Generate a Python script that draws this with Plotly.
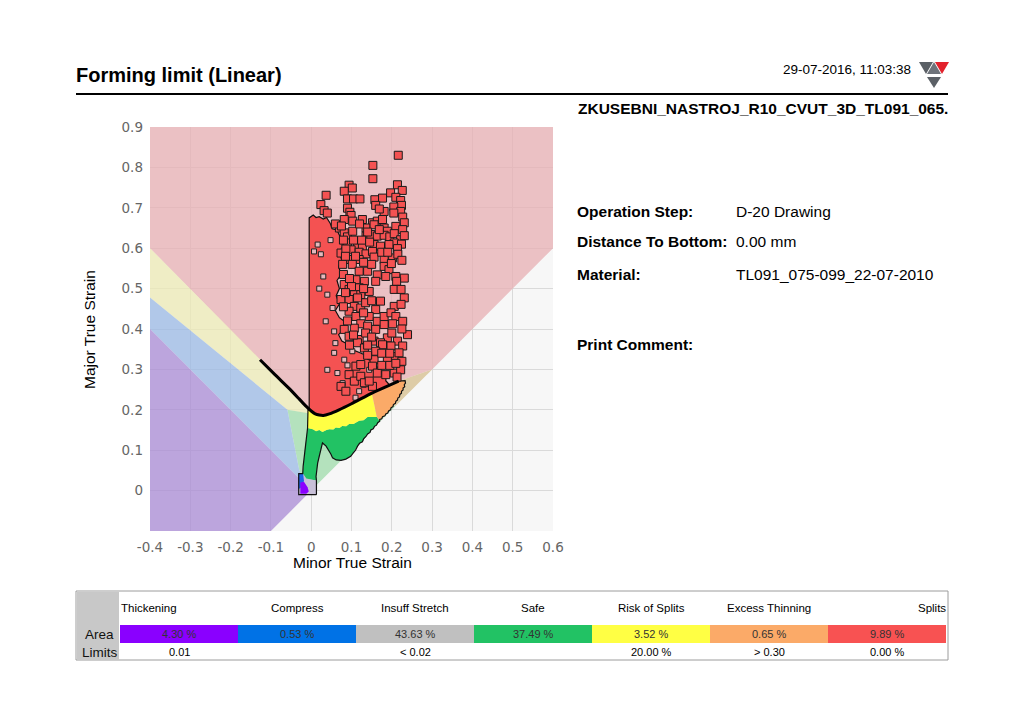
import plotly.graph_objects as go

W, H = 1024, 723

# ---------------- data ----------------
X_TICKS = [-0.4, -0.3, -0.2, -0.1, 0.0, 0.1, 0.2, 0.3, 0.4, 0.5, 0.6]
X_TICK_TEXT = ["-0.4", "-0.3", "-0.2", "-0.1", "0", "0.1", "0.2", "0.3", "0.4", "0.5", "0.6"]
Y_TICKS = [0.0, 0.1, 0.2, 0.3, 0.4, 0.5, 0.6, 0.7, 0.8, 0.9]
Y_TICK_TEXT = ["0", "0.1", "0.2", "0.3", "0.4", "0.5", "0.6", "0.7", "0.8", "0.9"]
X_RANGE = [-0.4, 0.6]
Y_RANGE = [-0.1, 0.9]

# forming limit curve
FLC_X = [-0.127, -0.09, -0.055, -0.03, -0.013, 0.0, 0.01, 0.02, 0.03, 0.045, 0.069, 0.1, 0.152, 0.185, 0.217]
FLC_Y = [0.324, 0.287, 0.253, 0.227, 0.209, 0.197, 0.19, 0.187, 0.186, 0.19, 0.2, 0.215, 0.242, 0.257, 0.271]

# background zones (minor, major)
ZONE_PINK = [(-0.4, 0.9), (0.6, 0.9), (0.6, 0.6), (0.3, 0.3), (0.217, 0.271), (0.185, 0.257), (0.152, 0.242),
             (0.1, 0.215), (0.069, 0.2), (0.045, 0.19), (0.03, 0.186), (0.02, 0.187), (0.01, 0.19), (0.0, 0.197),
             (-0.013, 0.209), (-0.03, 0.227), (-0.055, 0.253), (-0.09, 0.287), (-0.127, 0.324), (-0.4, 0.6)]
ZONE_CREAM = [(-0.4, 0.6), (-0.127, 0.324), (-0.09, 0.287), (-0.055, 0.253), (-0.03, 0.227), (-0.013, 0.209),
              (0.0, 0.197), (0.01, 0.19), (0.02, 0.187), (0.03, 0.186), (0.045, 0.19), (0.069, 0.2), (0.1, 0.215),
              (0.152, 0.242), (0.185, 0.257), (0.217, 0.271), (0.19, 0.215), (0.1, 0.17), (0.0, 0.19),
              (-0.059, 0.2), (-0.4, 0.478)]
ZONE_TAN = [(0.217, 0.271), (0.3, 0.3), (0.21, 0.21), (0.19, 0.215)]
ZONE_LGREEN = [(-0.059, 0.2), (0.0, 0.19), (0.1, 0.17), (0.19, 0.215), (0.21, 0.21), (0.0, 0.0),
               (-0.022, 0.035), (-0.03, 0.052), (-0.046, 0.134)]
ZONE_BLUE = [(-0.4, 0.478), (-0.059, 0.2), (-0.046, 0.134), (-0.03, 0.052), (-0.022, 0.035), (0.0, 0.0), (-0.4, 0.4)]
ZONE_PURPLE = [(-0.4, 0.4), (0.0, 0.0), (-0.1, -0.1), (-0.4, -0.1)]

# dense measured point clouds (outlines of the solid areas)
SEG_BLOB = [(0.013, -0.01), (-0.031, -0.01), (-0.031, 0.042), (-0.021, 0.042)]
SEG_LEFT = [(-0.02, 0.06), (-0.018, 0.08), (-0.015, 0.11), (-0.012, 0.13), (-0.009, 0.155), (-0.008, 0.2), (-0.005, 0.2)]
SEG_RED = [(-0.005, 0.675), (0.005, 0.682), (0.012, 0.676), (0.02, 0.678), (0.03, 0.672), (0.038, 0.676),
           (0.047, 0.662), (0.052, 0.648), (0.064, 0.645), (0.072, 0.628), (0.078, 0.605), (0.07, 0.59),
           (0.076, 0.57), (0.068, 0.555), (0.074, 0.535), (0.064, 0.52), (0.07, 0.5), (0.062, 0.482), (0.07, 0.462),
           (0.06, 0.446), (0.07, 0.428), (0.084, 0.418), (0.08, 0.398), (0.068, 0.386), (0.076, 0.37), (0.092, 0.362),
           (0.1, 0.35), (0.112, 0.345), (0.12, 0.34), (0.134, 0.336), (0.14, 0.325), (0.155, 0.32), (0.16, 0.308),
           (0.172, 0.302), (0.175, 0.29), (0.186, 0.284), (0.185, 0.272), (0.195, 0.261)]
SEG_ORANGE_TOP = [(0.217, 0.271), (0.233, 0.272)]
SEG_ORANGE_RIGHT = [(0.234, 0.266), (0.231, 0.262), (0.232, 0.257), (0.228, 0.254), (0.228, 0.249), (0.224, 0.246),
                    (0.224, 0.241), (0.22, 0.238), (0.219, 0.232), (0.215, 0.229), (0.214, 0.224), (0.21, 0.221),
                    (0.209, 0.216), (0.204, 0.213), (0.203, 0.208), (0.198, 0.205), (0.197, 0.2), (0.192, 0.197),
                    (0.19, 0.192), (0.185, 0.19), (0.183, 0.185), (0.177, 0.183), (0.175, 0.178), (0.17, 0.176),
                    (0.17, 0.172)]
SEG_GREEN_RIGHT = [(0.165, 0.168), (0.162, 0.162), (0.157, 0.159), (0.154, 0.153), (0.148, 0.15), (0.146, 0.144),
                   (0.14, 0.14), (0.136, 0.134), (0.13, 0.128), (0.127, 0.121), (0.12, 0.117), (0.115, 0.11),
                   (0.11, 0.1), (0.104, 0.093), (0.098, 0.085), (0.086, 0.078), (0.074, 0.075), (0.062, 0.076),
                   (0.053, 0.081), (0.049, 0.09), (0.045, 0.097), (0.037, 0.11), (0.028, 0.118), (0.024, 0.097),
                   (0.02, 0.085), (0.016, 0.068), (0.014, 0.05), (0.012, 0.035), (0.013, 0.025)]
SEG_GREEN_YELLOW = [(-0.009, 0.155), (0.004, 0.152), (0.012, 0.147), (0.02, 0.15), (0.028, 0.145), (0.038, 0.15),
                    (0.045, 0.152), (0.055, 0.151), (0.061, 0.156), (0.07, 0.155), (0.077, 0.16), (0.087, 0.159),
                    (0.094, 0.165), (0.105, 0.165), (0.119, 0.173), (0.13, 0.174), (0.14, 0.182), (0.163, 0.182)]
SEG_YELLOW_TOP = [(-0.008, 0.2), (0.0, 0.197), (0.01, 0.19), (0.02, 0.187), (0.03, 0.186), (0.045, 0.19),
                  (0.069, 0.2), (0.1, 0.215), (0.15, 0.243)]
SEG_YELLOW_ORANGE = [(0.15, 0.243), (0.156, 0.215), (0.163, 0.182)]
SEG_RED_BOTTOM = [(0.185, 0.257), (0.152, 0.242), (0.1, 0.215), (0.069, 0.2), (0.045, 0.19), (0.03, 0.186),
                  (0.02, 0.187), (0.01, 0.19), (0.0, 0.197)]
BLOB_GRAY = [(-0.031, 0.042), (-0.02, 0.042), (-0.012, 0.03), (0.013, 0.025), (0.013, -0.01), (-0.031, -0.01)]
BLOB_BLUE = [(-0.031, 0.042), (-0.02, 0.042), (-0.018, 0.025), (-0.021, 0.01), (-0.031, 0.004)]
BLOB_PURPLE = [(-0.027, 0.02), (-0.018, 0.022), (-0.009, 0.008), (-0.006, -0.002), (-0.012, -0.008), (-0.027, -0.008)]

# gaps inside the dense split cloud
HOLE_X = [0.040, 0.053, 0.036, 0.057, 0.057, 0.082, 0.040, 0.065, 0.078, 0.102, 0.144, 0.119, 0.016, 0.007,
          0.024, 0.03, 0.11, 0.13, 0.048, 0.02, 0.06, 0.09]
HOLE_Y = [0.485, 0.452, 0.419, 0.394, 0.341, 0.324, 0.299, 0.291, 0.266, 0.345, 0.299, 0.246, 0.609, 0.592,
          0.585, 0.53, 0.23, 0.262, 0.62, 0.5, 0.365, 0.31]

# individual split points
SPLIT_PTS = [
    (0.216, 0.830), (0.153, 0.805), (0.153, 0.772), (0.037, 0.731), (0.094, 0.756), (0.102, 0.749), (0.082, 0.741),
    (0.090, 0.722), (0.105, 0.722), (0.121, 0.722), (0.214, 0.757), (0.197, 0.737), (0.226, 0.743), (0.210, 0.726),
    (0.222, 0.718), (0.158, 0.720), (0.177, 0.724), (0.160, 0.706), (0.224, 0.706), (0.205, 0.702), (0.024, 0.708),
    (0.032, 0.693), (0.090, 0.699), (0.096, 0.689), (0.181, 0.691), (0.169, 0.697), (0.222, 0.691), (0.205, 0.687),
    (0.040, 0.687), (0.099, 0.681), (0.227, 0.677),
    (0.082, 0.671), (0.103, 0.667), (0.127, 0.671), (0.152, 0.663), (0.164, 0.667), (0.177, 0.671), (0.231, 0.663),
    (0.136, 0.650), (0.156, 0.658), (0.181, 0.650), (0.189, 0.642), (0.210, 0.654), (0.227, 0.646), (0.070, 0.650),
    (0.082, 0.638), (0.090, 0.628), (0.103, 0.642), (0.136, 0.630), (0.148, 0.634), (0.164, 0.630), (0.181, 0.632),
    (0.169, 0.646), (0.195, 0.628), (0.206, 0.636), (0.222, 0.621), (0.231, 0.631), (0.206, 0.613), (0.115, 0.609),
    (0.127, 0.603), (0.156, 0.609), (0.172, 0.605), (0.193, 0.609), (0.224, 0.610), (0.214, 0.599), (0.090, 0.613),
    (0.099, 0.596), (0.119, 0.590), (0.136, 0.586), (0.152, 0.592), (0.074, 0.588), (0.086, 0.598), (0.156, 0.578),
    (0.202, 0.576), (0.181, 0.572), (0.094, 0.572), (0.119, 0.572), (0.078, 0.560), (0.102, 0.560), (0.181, 0.555),
    (0.193, 0.547), (0.199, 0.562), (0.119, 0.543), (0.140, 0.543), (0.164, 0.534), (0.210, 0.530), (0.231, 0.526),
    (0.111, 0.522), (0.132, 0.518), (0.160, 0.518), (0.185, 0.530), (0.212, 0.518),
    (0.082, 0.510), (0.094, 0.498), (0.119, 0.502), (0.144, 0.493), (0.206, 0.498), (0.223, 0.498), (0.231, 0.477),
    (0.107, 0.485), (0.123, 0.485), (0.074, 0.473), (0.094, 0.473), (0.115, 0.477),
    (0.160, 0.448), (0.172, 0.469), (0.206, 0.456), (0.223, 0.461), (0.107, 0.456), (0.123, 0.452), (0.094, 0.444),
    (0.111, 0.431), (0.144, 0.431), (0.164, 0.419), (0.181, 0.431), (0.198, 0.440), (0.210, 0.431), (0.227, 0.419),
    (0.181, 0.411), (0.202, 0.413), (0.123, 0.413), (0.140, 0.407), (0.160, 0.399), (0.107, 0.402),
    (0.082, 0.399), (0.094, 0.382), (0.119, 0.374), (0.189, 0.378), (0.239, 0.386),
    (0.156, 0.370), (0.172, 0.366), (0.214, 0.370),
    (0.115, 0.366), (0.132, 0.353), (0.177, 0.361), (0.198, 0.358), (0.227, 0.358), (0.206, 0.332), (0.218, 0.341),
    (0.189, 0.328), (0.156, 0.324), (0.152, 0.308), (0.164, 0.291), (0.111, 0.308), (0.123, 0.312),
    (0.094, 0.287), (0.107, 0.271), (0.123, 0.283), (0.132, 0.267),
    (0.185, 0.287), (0.206, 0.291), (0.222, 0.299), (0.213, 0.281),
    (0.074, 0.258), (0.086, 0.246), (0.152, 0.258), (0.144, 0.271),
    (0.060, 0.660), (0.075, 0.655), (0.120, 0.660), (0.140, 0.640), (0.125, 0.620), (0.145, 0.615), (0.105, 0.620),
    (0.080, 0.620), (0.085, 0.580), (0.110, 0.580), (0.130, 0.565), (0.150, 0.560), (0.175, 0.590),
    (0.190, 0.590), (0.215, 0.585), (0.225, 0.570), (0.080, 0.535), (0.095, 0.525), (0.100, 0.505), (0.130, 0.500),
    (0.085, 0.490), (0.135, 0.465), (0.150, 0.470),
    (0.080, 0.455), (0.090, 0.420), (0.130, 0.440), (0.200, 0.390), (0.225, 0.400), (0.105, 0.385), (0.135, 0.390),
    (0.150, 0.380), (0.095, 0.360), (0.140, 0.360), (0.160, 0.345), (0.175, 0.340), (0.195, 0.340), (0.225, 0.320),
    (0.175, 0.310), (0.195, 0.310), (0.210, 0.315), (0.140, 0.335),
]

# summary table
CATEGORIES = ["Thickening", "Compress", "Insuff Stretch", "Safe", "Risk of Splits", "Excess Thinning", "Splits"]
AREA_PCT = [4.30, 0.53, 43.63, 37.49, 3.52, 0.65, 9.89]
LIMITS = ["0.01", "", "< 0.02", "", "20.00 %", "> 0.30", "0.00 %"]
CAT_COLORS = ["#8A00FF", "#0072E6", "#C0C0C0", "#22C264", "#FFFF44", "#FBAA68", "#F85252"]

INFO_LABELS = ["Operation Step:", "Distance To Bottom:", "Material:", "Print Comment:"]
INFO_VALUES = ["D-20 Drawing", "0.00 mm", "TL091_075-099_22-07-2010", ""]

# ---------------- styles ----------------
ARIAL = "Liberation Sans, Arial, sans-serif"
RED = "#F45252"
PAD = 2  # annotation inner padding compensation (px)


def closed(pts):
    xs = [p[0] for p in pts] + [pts[0][0]]
    ys = [p[1] for p in pts] + [pts[0][1]]
    return xs, ys


def px_x(px):
    return px / W


def px_y(py):
    return 1 - py / H


fig = go.Figure()


def add_fill(pts, color, line_w=0, line_c="black"):
    xs, ys = closed(pts)
    fig.add_trace(go.Scatter(x=xs, y=ys, mode="lines", fill="toself", fillcolor=color,
                             line=dict(width=line_w, color=line_c), hoverinfo="skip", showlegend=False))


# zones (semi-transparent so the grid shows through)
add_fill(ZONE_PINK, "rgba(231,175,179,0.75)")
add_fill(ZONE_CREAM, "rgba(236,233,180,0.75)")
add_fill(ZONE_TAN, "rgba(214,190,140,0.75)")
add_fill(ZONE_LGREEN, "rgba(158,219,170,0.75)")
add_fill(ZONE_BLUE, "rgba(154,184,228,0.75)")
add_fill(ZONE_PURPLE, "rgba(168,138,212,0.75)")

# dense clouds
green_poly = [(-0.022, 0.03), (-0.021, 0.042)] + SEG_LEFT[:5] + SEG_GREEN_YELLOW[1:] + [(0.17, 0.172)] + SEG_GREEN_RIGHT
yellow_poly = [(-0.009, 0.155)] + SEG_YELLOW_TOP + SEG_YELLOW_ORANGE[1:] + SEG_GREEN_YELLOW[::-1][1:]
orange_poly = [(0.15, 0.243), (0.185, 0.257)] + SEG_ORANGE_TOP + SEG_ORANGE_RIGHT + [(0.163, 0.182), (0.156, 0.215)]
red_poly = [(-0.005, 0.2)] + SEG_RED + SEG_RED_BOTTOM
add_fill(green_poly, "#22C264")
add_fill(yellow_poly, "#FFFF44")
add_fill(orange_poly, "#FBAA68")
add_fill(red_poly, RED)
add_fill(BLOB_GRAY, "#C8C0D8")
add_fill(BLOB_BLUE, "#1E64E6")
add_fill(BLOB_PURPLE, "#8A00FF")

# outer outline of the dense clouds
outline = SEG_BLOB + SEG_LEFT + SEG_RED + SEG_ORANGE_TOP + SEG_ORANGE_RIGHT + SEG_GREEN_RIGHT
ox, oy = closed(outline)
fig.add_trace(go.Scatter(x=ox, y=oy, mode="lines", line=dict(color="#111111", width=1.2),
                         hoverinfo="skip", showlegend=False))

# holes
fig.add_trace(go.Scatter(x=HOLE_X, y=HOLE_Y, mode="markers",
                         marker=dict(symbol="square", size=5, color="#E6B9BD", line=dict(color="#222", width=1)),
                         hoverinfo="skip", showlegend=False))

# individual split points
fig.add_trace(go.Scatter(x=[p[0] for p in SPLIT_PTS], y=[p[1] for p in SPLIT_PTS], mode="markers",
                         marker=dict(symbol="square", size=8, color=RED, line=dict(color="#1a1a1a", width=1)),
                         hoverinfo="skip", showlegend=False))

# FLC
fig.add_trace(go.Scatter(x=FLC_X, y=FLC_Y, mode="lines", line=dict(color="black", width=3, shape="spline", smoothing=0.6),
                         hoverinfo="skip", showlegend=False))

# ---------------- layout ----------------
fig.update_layout(
    width=W, height=H, margin=dict(l=0, r=0, t=0, b=0, autoexpand=False),
    paper_bgcolor="white", plot_bgcolor="#F7F7F7", showlegend=False,
    xaxis=dict(domain=[px_x(150), px_x(553)], range=X_RANGE, tickvals=X_TICKS, ticktext=X_TICK_TEXT,
               showgrid=True, gridcolor="#DADADA", gridwidth=1, zeroline=False, showline=False, automargin=False,
               tickfont=dict(family="DejaVu Sans", size=13.5, color="#666666"), ticks="", ticklabelstandoff=6,
               fixedrange=True),
    yaxis=dict(domain=[px_y(531), px_y(127)], range=Y_RANGE, tickvals=Y_TICKS, ticktext=Y_TICK_TEXT,
               showgrid=True, gridcolor="#DADADA", gridwidth=1, zeroline=False, showline=False, automargin=False,
               tickfont=dict(family="DejaVu Sans", size=13.5, color="#666666"), ticks="", ticklabelstandoff=6,
               fixedrange=True),
)


def ann(text, x, y, size, anchor="left", color="black", family=ARIAL, angle=0):
    if anchor == "left":
        x -= PAD
    elif anchor == "right":
        x += PAD
    fig.add_annotation(x=px_x(x), y=px_y(y), xref="paper", yref="paper", text=text, showarrow=False,
                       xanchor=anchor, yanchor="middle", textangle=angle,
                       font=dict(family=family, size=size, color=color))


def rect(x0, y0, x1, y1, fill, line_c=None, line_w=0):
    fig.add_shape(type="rect", xref="paper", yref="paper", x0=px_x(x0), x1=px_x(x1), y0=px_y(y1), y1=px_y(y0),
                  fillcolor=fill, line=dict(color=line_c or fill, width=line_w), layer="above")


# header
ann("<b>Forming limit (Linear)</b>", 76, 75, 20)
ann("29-07-2016, 11:03:38", 911, 70, 13.5, anchor="right")
fig.add_shape(type="line", xref="paper", yref="paper", x0=px_x(76), x1=px_x(948), y0=px_y(94), y1=px_y(94),
              line=dict(color="black", width=2))
ann("<b>ZKUSEBNI_NASTROJ_R10_CVUT_3D_TL091_065.</b>", 948, 108, 15.5, anchor="right")

# logo
LOGO = [((919, 62), (933, 62), (926, 74), "#5B6066"),
        ((927, 74), (941, 74), (934, 62), "#6E737A"),
        ((935, 62), (949, 62), (942, 74), "#E2222C"),
        ((927, 77), (941, 77), (934, 88), "#5B6066")]
for a, b, c, col in LOGO:
    path = "M {} {} L {} {} L {} {} Z".format(px_x(a[0]), px_y(a[1]), px_x(b[0]), px_y(b[1]), px_x(c[0]), px_y(c[1]))
    fig.add_shape(type="path", xref="paper", yref="paper", path=path, fillcolor=col, line=dict(width=0))

# axis titles
ann("Minor True Strain", 352, 562, 15.5, anchor="center")
ann("Major True Strain", 90, 330, 15.5, anchor="center", angle=-90)

# info block
INFO_Y = [211, 242, 274, 344]
for lab, val, yy in zip(INFO_LABELS, INFO_VALUES, INFO_Y):
    ann("<b>" + lab + "</b>", 577, yy, 15.5)
    if val:
        ann(val, 736, yy, 15.5)

# table
rect(76, 591, 948, 660, "white", "#9C9C9C", 1)
rect(77, 592, 119, 660, "#C8C8C8")
ann("Area", 114, 634, 13.5, anchor="right", color="#111111")
ann("Limits", 118, 652, 13.5, anchor="right", color="#111111")
cell_w = 118
for i, (cat, pct, lim, col) in enumerate(zip(CATEGORIES, AREA_PCT, LIMITS, CAT_COLORS)):
    x0 = 120 + cell_w * i
    rect(x0, 625, x0 + cell_w, 643, col)
    xc = x0 + cell_w / 2
    if i == 0:
        ann(cat, x0 + 1, 608, 11.5)
    elif i == len(CATEGORIES) - 1:
        ann(cat, x0 + cell_w, 608, 11.5, anchor="right")
    else:
        ann(cat, xc, 608, 11.5, anchor="center")
    ann("{:.2f} %".format(pct), xc, 634, 11, anchor="center", color="#333333")
    if lim:
        ann(lim, xc, 652, 11, anchor="center")

fig.write_html("out.html", config={"displayModeBar": False},
               post_script="document.body.style.margin='0';document.body.style.overflow='hidden';")
